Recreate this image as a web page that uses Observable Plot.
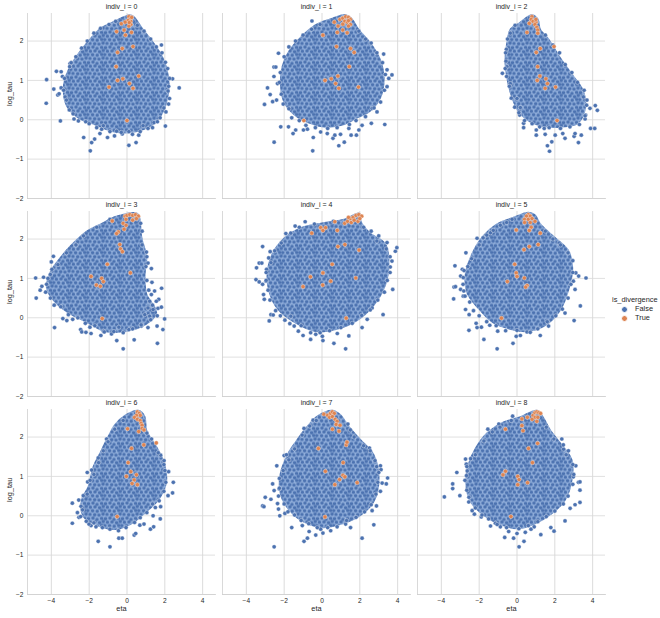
<!DOCTYPE html>
<html><head><meta charset="utf-8">
<script src="https://cdn.jsdelivr.net/npm/d3@7"></script>
<script src="https://cdn.jsdelivr.net/npm/@observablehq/plot@0.6"></script>
<style>
html,body{margin:0;padding:0;background:#fff;overflow:hidden}
#wrap{position:relative;width:660px;height:618px;font-family:"Liberation Sans",Arial,sans-serif;color:#262626}
#legend{position:absolute;left:612px;top:295px;font-size:7.4px;line-height:9px}
#legend .r{position:relative;height:9px;padding-left:23px}
#legend i{position:absolute;left:9px;top:2px;width:5px;height:5px;border-radius:50%;border:.4px solid #fff}
</style></head><body><div id="wrap"><div id="legend"><div>is_divergence</div>
<div class="r"><i style="background:#4c72b0"></i>False</div>
<div class="r"><i style="background:#dd8452"></i>True</div></div></div>
<script>
const outline0=[[.15,2.62],[-.65,2.45],[-1.35,2.28],[-1.95,1.98],[-2.5,1.65],[-3,1.26],[-3.25,.88],[-3.1,.37],[-2.5,.08],[-1.6,-.09],[-.65,-.26],[.4,-.26],[1.3,-.09],[1.8,.2],[2.1,.7],[2.08,1.13],[1.8,1.56],[1.3,1.94],[.75,2.28],[.3,2.58]];
const outline1=[[1.25,2.62],[.46,2.51],[-.33,2.36],[-1.04,2.07],[-1.65,1.73],[-2,1.35],[-2.09,.88],[-1.91,.46],[-1.39,.16],[-.68,-.03],[.19,-.14],[1.16,-.07],[1.77,.08],[2.47,.25],[3,.58],[3.18,1.05],[3,1.5],[2.47,1.93],[1.86,2.27],[1.51,2.53]];
const outline2=[[.79,2.62],[.18,2.42],[-.26,2.28],[-.44,1.94],[-.53,1.51],[-.44,1.09],[-.26,.71],[.09,.29],[.61,.03],[1.4,-.12],[2.28,-.14],[3.16,-.05],[3.51,.29],[3.42,.71],[2.89,1.09],[2.19,1.56],[1.58,2.03],[1.14,2.28],[1.02,2.53]];
const outline3=[[.5,2.61],[-.55,2.53],[-1.34,2.34],[-2.04,2.17],[-2.92,1.79],[-3.54,1.44],[-3.97,1.14],[-4.15,.76],[-3.71,.42],[-2.92,.13],[-2.04,-.08],[-1.17,-.3],[-.11,-.3],[.94,-.13],[1.46,.13],[.94,.59],[.85,1.1],[.94,1.53],[.68,2.03],[.59,2.46]];
const outline4=[[1.95,2.61],[1.25,2.46],[.02,2.36],[-1.04,2.25],[-1.91,2],[-2.53,1.61],[-2.79,1.14],[-2.7,.68],[-2.26,.25],[-1.39,-.08],[-.33,-.3],[.72,-.25],[1.77,-.04],[2.65,.34],[3.26,.85],[3.44,1.36],[3.26,1.86],[2.47,2.12],[1.95,2.46]];
const outline5=[[.61,2.63],[-.18,2.5],[-1.05,2.33],[-1.75,2.03],[-2.28,1.61],[-2.63,1.1],[-2.54,.64],[-1.93,.25],[-1.23,-.08],[-.35,-.24],[.53,-.3],[1.4,-.17],[2.19,.21],[2.63,.72],[2.84,1.27],[2.63,1.69],[1.75,2.08],[1.14,2.37],[.88,2.58]];
const outline6=[[.59,2.63],[-.03,2.52],[-.55,2.29],[-.9,2],[-1.34,1.57],[-1.69,1.23],[-1.96,.72],[-2.31,.38],[-2.22,0],[-1.52,-.21],[-.64,-.3],[.15,-.17],[.94,.13],[1.64,.47],[1.99,.89],[1.82,1.4],[1.46,1.74],[.94,2.16],[.85,2.5]];
const outline7=[[.54,2.63],[-.16,2.5],[-.77,2.2],[-1.3,1.86],[-1.74,1.53],[-2.12,1.02],[-2.09,.55],[-1.65,.17],[-.86,-.13],[.02,-.25],[.98,-.17],[1.95,.04],[2.65,.38],[2.91,.97],[2.65,1.53],[1.95,1.91],[1.33,2.25],[.89,2.54]];
const outline8=[[1.05,2.63],[.18,2.46],[-.7,2.33],[-1.49,2.08],[-2.11,1.69],[-2.46,1.31],[-2.6,.81],[-2.37,.38],[-1.67,.04],[-.88,-.17],[0,-.28],[.88,-.17],[1.75,.08],[2.46,.42],[2.81,.93],[2.81,1.4],[2.28,1.78],[1.67,2.16],[1.32,2.46]];

const stray0=[[-4.25,1.02],[-4.27,.42],[-3.87,.78],[-3.73,1.23],[-3.48,1.22],[-3.41,1.1],[-3.66,.63],[-3.48,.81],[-3.59,.66],[-3.27,.58],[-3.52,-.03],[-2.29,-.45],[-1.87,-.58],[-1.94,-.79],[-1.71,-.49],[-1.43,-.35],[-1.03,-.45],[-.66,-.41],[-.25,-.36],[.1,-.65],[.29,-.37],[.48,-.58],[.62,-.39],[.85,-.15],[1.11,-.22],[1.43,-.07],[1.61,-.05],[2.03,-.16],[2.06,.2],[2.25,.54],[2.17,.73],[2.41,1.04],[2.76,.81],[1.82,1.9],[2.03,1.46],[-3.01,1.43],[-3.03,1.35],[-2.18,-.05],[-2.57,-.03],[-1.34,-.24],[-1.6,-.2],[-.55,-.29],[-3.3,1.05],[-3.35,.75],[-3.2,.5],[-3.05,.25],[-2.85,.15],[-2.95,1.45],[-2.7,1.6],[-2.4,1.82],[-2.1,2],[-1.75,2.2],[-1.4,2.32],[-.95,2.42],[-.6,2.5],[.55,2.4],[.9,2.25],[1.25,2.05],[1.55,1.85],[1.85,1.7],[2.15,1.3],[2.25,1.05],[2.2,.85],[2.2,.4],[1.95,.3],[1.75,.05],[1.35,-.2],[.7,-.3],[.1,-.3],[-.3,-.32],[-.9,-.3],[-1.25,-.15],[-2,-.1],[-2.8,.02]];
const stray1=[[-3.04,.39],[-2.88,.81],[-2.54,1.34],[-2.44,1.34],[-2.3,1.69],[-2.54,1.1],[-2.61,.46],[-2.4,.5],[-2.74,.64],[-2.35,.92],[-2.18,-.18],[-1.77,-.18],[-1.39,-.26],[-1.53,-.35],[-2.53,-.57],[-.49,-.79],[-.46,-.45],[-.98,-.26],[-.77,-.24],[-.07,-.31],[.28,-.35],[.58,-.47],[.68,-.39],[.89,-.66],[1.18,-.57],[.98,-.37],[1.42,-.22],[1.54,-.39],[1.82,-.39],[1.95,-.26],[2.12,-.14],[2.61,-.09],[3.32,-.12],[2.91,.2],[2.65,.29],[3.44,.84],[3.53,1.05],[3.7,1.14],[3.44,1.27],[3.26,1.67],[-.53,2.51],[-2.2,1.2],[-2.25,.95],[-2.15,.65],[-2.05,.4],[-1.75,.28],[-1.6,.05],[-1.2,-.02],[-.85,-.14],[-.35,-.2],[.3,-.22],[.8,-.2],[1.45,-.12],[1.8,-.02],[2.3,.08],[2.75,.3],[3.1,.45],[3.3,.75],[3.35,1.15],[3.2,1.45],[2.9,1.7],[2.6,1.95],[2.3,2.05],[1.95,2.25],[-.1,2.42],[-.55,2.3],[-1,2.15],[-1.4,2],[-1.75,1.85],[-2,1.6]];
const stray2=[[-.77,1.18],[-.56,1.79],[-.58,1.49],[-.53,1.35],[-.35,.92],[0,.54],[.18,.31],[.14,.12],[.35,-.09],[.35,-.2],[1.02,-.26],[1.02,-.39],[1.44,-.22],[1.49,-.37],[1.61,-.66],[1.72,-.8],[1.84,-.56],[2.02,-.39],[2.42,-.35],[2.54,-.47],[3.02,-.42],[3.07,-.35],[3.25,-.58],[3.4,-.39],[3.89,-.22],[4.11,-.22],[3.6,.02],[3.63,.12],[3.68,.37],[3.86,.29],[4.14,.36],[4.25,.24],[3.51,.58],[-.6,1.7],[-.62,1.3],[-.55,1.1],[-.4,.85],[-.3,.55],[-.12,.32],[.1,.18],[.4,-.02],[.8,-.1],[1.2,-.18],[1.7,-.2],[2.3,-.22],[2.8,-.18],[3.3,-.12],[3.6,.1],[3.7,.5],[3.55,.75],[3.2,.95],[2.9,1.2],[2.55,1.4],[2.25,1.7],[1.9,1.9],[1.5,2.15],[-.1,2.4],[-.35,2.2],[-.5,2.05]];
const stray3=[[-4.83,1.01],[-4.8,.5],[-4.59,.7],[-4.5,.8],[-4.41,1.03],[-4.18,1],[-3.97,1.23],[-4,1.42],[-3.89,1.56],[-3.83,-.25],[-3.39,-.02],[-3.18,-.07],[-2.87,-.04],[-2.45,-.3],[-2.39,-.36],[-2.17,-.37],[-1.9,-.4],[-1.96,-.24],[-1.38,-.45],[-1.24,-.34],[-.82,-.41],[-.54,-.58],[-.2,-.79],[.38,-.56],[-.43,-.24],[.1,-.3],[1.61,-.65],[1.59,-.21],[1.9,-.3],[1.99,-.03],[1.64,.24],[1.82,.27],[1.68,.47],[1.83,.75],[1.32,.9],[1.29,1.25],[1.11,1.39],[1.03,1.67],[1.11,-.25],[.76,-.21],[1.2,.42],[1.11,.25],[1.29,.59],[1.46,.68],[.94,.08],[1.2,.04],[1.38,.21],[1.55,.42],[-4.25,.85],[-4.3,.65],[-4.05,.5],[-3.85,.32],[-3.5,.28],[-3.1,.08],[-2.6,0],[-2.2,-.14],[-1.7,-.2],[-1.2,-.36],[-.7,-.35],[-.2,-.38],[.3,-.28],[.75,-.18],[1.25,-.05],[1.6,.05],[1.35,.32],[1.15,.7],[1.05,.95],[1,1.3],[1.05,1.55],[.8,1.85],[.8,2.2],[.72,2.4],[-.9,2.5],[-1.6,2.3],[-2.3,2.08],[-2.7,1.85],[-3.2,1.65],[-3.65,1.35],[-4.05,1.1]];
const stray4=[[-3.49,.97],[-3.32,.91],[-3.14,.85],[-2.96,.93],[-3.46,1.27],[-3.32,1.39],[-3.18,1.39],[-3.14,1.81],[-2.93,1.23],[-2.74,1.68],[-2.82,1.52],[-3.09,.59],[-3.05,.47],[-2.7,.08],[-2.79,-.08],[-2.58,.07],[-1.96,-.06],[-1.65,.04],[-1.47,-.21],[-1.25,-.34],[-1,-.45],[-.6,-.55],[.05,-.58],[.02,-.47],[.63,-.65],[1.25,-.79],[1.42,-.46],[.81,-.4],[2.12,-.25],[2.39,-.04],[3.23,.08],[2.65,.25],[3.74,.72],[3.7,1.44],[3.61,1.29],[3.88,1.69],[3.96,1.78],[3.44,1.91],[3,2.08],[-.89,2.44],[-1.42,2.33],[-1.91,2.14],[-.33,-.42],[-2.95,1.15],[-2.95,.95],[-2.85,.7],[-2.75,.45],[-2.45,.18],[-2.2,.05],[-1.7,-.15],[-1.1,-.2],[-.6,-.38],[-.1,-.38],[.4,-.33],[1,-.25],[1.6,-.14],[2.1,.06],[2.55,.2],[2.95,.45],[3.3,.65],[3.45,.95],[3.6,1.15],[3.6,1.55],[3.4,1.75],[2.9,1.95],[2.6,2.2],[2.2,2.3],[.6,2.45],[-.4,2.38],[-1.2,2.3],[-1.65,2.15],[-2.15,1.9],[-2.5,1.7],[-2.7,1.4]];
const stray5=[[-3.28,1.32],[-3.33,.78],[-3.25,.79],[-3.35,.48],[-2.98,1.06],[-2.89,1.23],[-2.84,1.02],[-2.98,.72],[-2.81,.68],[-2.84,.55],[-2.7,1.65],[-2.72,.21],[-2.53,.08],[-2.54,-.32],[-2.16,-.14],[-2.11,-.25],[-1.75,-.55],[-1.88,-.24],[-1.44,-.19],[-1.05,-.79],[-1.02,-.34],[-.21,-.65],[-.04,-.47],[.18,-.45],[.53,-.36],[1.23,-.45],[1.67,-.21],[3.02,-.07],[2.54,.12],[3.35,.3],[3.65,1.01],[3.26,1.06],[3.11,1.14],[3.07,.72],[2.98,.93],[2.23,1.9],[-2.11,2.02],[-1.79,2.03],[-1.4,2.16],[-.88,2.35],[-.26,2.5],[-2.8,1.2],[-2.85,.85],[-2.75,.55],[-2.5,.4],[-2.3,.18],[-2,.05],[-1.6,-.1],[-1.1,-.2],[-.6,-.33],[0,-.32],[.7,-.37],[1.1,-.28],[1.6,-.1],[2.05,.05],[2.4,.22],[2.7,.5],[2.85,.85],[2.95,1.15],[2.95,1.45],[2.7,1.65],[2.3,1.85],[1.9,2],[1.5,2.2],[-.55,2.42],[-1.25,2.22],[-1.6,2.1],[-2,1.85],[-2.4,1.5],[-2.6,1.3]];
const stray6=[[-2.89,.32],[-2.89,-.19],[-2.62,.08],[-2.54,-.04],[-2.43,.24],[-2.31,.51],[-2.1,1.1],[-2.08,.86],[-1.87,1.16],[-1.9,-.25],[-1.64,-.28],[-1.52,-.65],[-.9,-.79],[-.43,-.57],[-.25,-.57],[.38,-.49],[.46,-.45],[.68,-.24],[.9,-.21],[1.24,-.34],[1.41,-.28],[1.76,-.08],[1.38,0],[1.5,.21],[1.78,.23],[2.17,.51],[2.41,.58],[2.45,.85],[2.2,1.12],[1.78,1.54],[1.96,1.4],[-1.08,1.95],[-1.52,1.47],[-2.01,-.21],[-2.55,.4],[-2.35,.15],[-2.45,-.02],[-2.15,-.14],[-1.75,-.18],[-1.3,-.3],[-.9,-.34],[-.45,-.38],[-.05,-.3],[.4,-.17],[.7,-.05],[1.05,.08],[1.35,.3],[1.7,.38],[1.95,.62],[2.05,.85],[2,1.15],[1.95,1.3],[1.65,1.6],[1.3,1.95],[1.05,2.1],[-.2,2.42],[-.65,2.2],[-1,1.88],[-1.25,1.65],[-1.5,1.35],[-1.75,1.05],[-1.95,.9],[-2.1,.55]];
const stray7=[[-2.53,-.79],[-3.14,.25],[-3.07,.23],[-3,.47],[-2.7,.42],[-2.61,.81],[-2.39,1.27],[-2.53,.64],[-2.26,.68],[-2.35,.31],[-2.3,.17],[-2.23,0],[-1.96,.06],[-2,1.53],[-1.88,1.55],[-1.6,-.3],[-1.04,-.25],[-.95,-.65],[-.77,-.57],[-.68,-.4],[-.33,-.49],[.05,-.44],[-.07,-.34],[.46,-.38],[1.25,-.21],[1.51,-.3],[2.12,-.57],[2.74,-.23],[2.65,.13],[2.88,.25],[3.09,.62],[3.18,.83],[3.4,.81],[3.47,.96],[3.09,1.27],[3.12,1.17],[2.89,1.25],[2.51,1.72],[1.37,2.33],[-.95,2.22],[-.47,2.43],[-2.25,.95],[-2.25,.7],[-2.3,.5],[-2,.3],[-1.8,.1],[-1.45,.02],[-1.1,-.12],[-.7,-.2],[-.25,-.3],[.3,-.3],[.8,-.28],[1.3,-.12],[1.8,-.04],[2.25,.1],[2.6,.28],[2.85,.55],[2.95,.85],[3,1.1],[2.8,1.4],[2.55,1.65],[2.2,1.78],[1.7,2],[1.5,2.18],[-.3,2.42],[-.65,2.28],[-1.05,2.05],[-1.45,1.7],[-1.75,1.42],[-2.05,1.15]];
const stray8=[[-3.84,.48],[-3.4,.81],[-3.4,.69],[-3.02,.51],[-3.18,1.1],[-2.72,1.44],[-2.68,1.31],[-2.67,1.02],[-2.63,1.14],[-2.54,.47],[-2.37,.13],[-2.25,.04],[-1.89,-.03],[-1.4,-.26],[-1.14,-.19],[-.88,-.28],[-.65,-.55],[-.44,-.4],[-.18,-.57],[0,-.45],[.11,-.79],[.37,-.65],[.44,-.42],[.74,-.34],[.91,-.28],[1.26,-.48],[1.79,-.3],[1.96,-.39],[2.54,-.13],[2.81,.19],[3.07,.28],[3.33,.34],[3.33,.65],[3.25,.85],[3.33,.86],[2.98,.99],[3.11,1.27],[2.72,1.65],[2.46,1.69],[2.37,1.95],[-1.54,2.2],[-.96,2.33],[-.23,2.53],[-2.65,1.25],[-2.75,.9],[-2.65,.65],[-2.55,.35],[-2.2,.2],[-1.85,.02],[-1.5,-.08],[-1.05,-.22],[-.55,-.3],[.1,-.33],[.6,-.25],[1.1,-.15],[1.55,-.02],[2,.12],[2.45,.3],[2.7,.5],[2.95,.8],[3,1.05],[2.95,1.3],[2.6,1.55],[2.45,1.8],[1.95,1.95],[1.55,2.25],[-.3,2.42],[-.9,2.25],[-1.3,2.13],[-1.75,1.9],[-2.2,1.55],[-2.45,1.45]];

const div0=[[.1,2.62],[.15,2.55],[.2,2.5],[.05,2.52],[.2,2.42],[.1,2.38],[.25,2.6],[.12,2.47],[-.1,2.48],[-.3,2.44],[-.55,2.24],[-.15,2.28],[-.08,2.15],[.24,2.22],[.32,1.86],[-.25,1.81],[-.5,1.71],[-.57,1.35],[-.5,1],[-.22,1.04],[.62,1.11],[.13,.92],[.32,.8],[-.95,.83],[0,-.02]];
const div1=[[.95,2.55],[1.1,2.58],[1.25,2.62],[1.4,2.6],[1.5,2.55],[1.2,2.5],[1.35,2.48],[1.5,2.42],[.65,2.48],[.85,2.38],[1.4,2.38],[1.4,2.52],[1.1,2.43],[.05,2.15],[.81,2.22],[1.1,2.28],[1.33,2.21],[.77,1.86],[1.51,1.81],[1.7,1.71],[1.44,1.35],[.16,1],[.49,1.04],[.84,1.11],[.72,.92],[.89,.8],[1.93,.83],[-.96,-.02]];
const div2=[[.79,2.62],[.75,2.55],[.85,2.5],[1,2.48],[.95,2.42],[1.05,2.35],[1.1,2.28],[1.1,2.2],[.65,2.45],[1,2.55],[.53,2.22],[1.96,1.86],[1.23,1.81],[1.02,1.71],[1.09,1.35],[1.21,1.11],[1.07,1],[1.53,1.04],[1.61,.92],[1.49,.8],[2.04,.83],[2.12,-.02]];
const div3=[[-.1,2.58],[0,2.6],[.15,2.62],[.3,2.6],[.45,2.62],[.6,2.58],[.3,2.48],[.5,2.52],[-.05,2.5],[-.2,2.4],[-.05,2.35],[-.15,2.25],[-.78,2.46],[-.46,2.18],[-.55,2.14],[-.38,1.86],[-.34,1.75],[-.24,1.68],[-1.04,1.36],[.18,1.14],[-1.9,1.05],[-1.34,1],[-1.25,.92],[-1.62,.83],[-1.41,.8],[-1.31,-.02]];
const div4=[[1.2,2.4],[1.35,2.45],[1.5,2.52],[1.55,2.42],[1.65,2.55],[1.8,2.6],[1.95,2.62],[2.1,2.58],[1.9,2.45],[2,2.52],[1.4,2.55],[1.7,2.48],[-.54,2.15],[-.07,2.29],[.05,2.22],[.19,2.29],[.68,2.44],[.81,2.22],[.84,1.81],[1.21,1.86],[1.96,1.72],[.54,1.36],[.05,1.14],[-.61,1.04],[.46,.93],[1.79,1.01],[-1,.79],[.04,.83],[1.28,-.01]];
const div5=[[.6,2.62],[.7,2.58],[.5,2.58],[.4,2.5],[.6,2.5],[.8,2.52],[.95,2.45],[.4,2.42],[.7,2.42],[.75,2.3],[.65,2.22],[-.04,2.23],[1.23,2.15],[1.12,1.86],[.65,1.81],[.37,1.73],[-.12,1.36],[-.04,1.14],[0,1.05],[.39,1.01],[-.51,.92],[.53,.82],[.46,.78],[-.82,-.01]];
const div6=[[.55,2.64],[.65,2.6],[.7,2.55],[.5,2.55],[.4,2.5],[.55,2.45],[.7,2.42],[.75,2.35],[.8,2.3],[.8,2.22],[.9,2.18],[.03,2.21],[.62,2.14],[1.55,1.85],[.89,1.8],[.24,1.71],[.06,1.35],[.2,1.12],[.5,1.04],[-.03,1],[.38,.91],[.27,.82],[.55,.79],[-.52,-.02]];
const div7=[[.1,2.58],[.3,2.55],[.45,2.6],[.55,2.64],[.65,2.6],[.4,2.5],[.55,2.52],[.7,2.45],[.8,2.4],[.75,2.32],[.95,2.3],[.55,2.2],[.9,2.15],[-.19,1.71],[1.28,1.8],[1.32,1.87],[1.12,1.35],[.18,1.13],[1.11,1.03],[1.21,.99],[.93,.92],[.68,.79],[1.86,.84],[.16,-.03]];
const div8=[[.85,2.55],[.95,2.62],[1.05,2.64],[1.15,2.62],[1.25,2.6],[.95,2.5],[1.1,2.5],[.8,2.45],[1.05,2.4],[.55,2.5],[.26,2.46],[-.61,2.2],[.26,2.29],[.32,2.16],[1.09,1.84],[.61,1.71],[.82,1.35],[-.61,1.13],[-.74,1.04],[.04,1],[.11,.92],[.04,.79],[.56,.84],[-.32,-.02]];

const outlines=[outline0,outline1,outline2,outline3,outline4,outline5,outline6,outline7,outline8];
const strays=[stray0,stray1,stray2,stray3,stray4,stray5,stray6,stray7,stray8];
const divs=[div0,div1,div2,div3,div4,div5,div6,div7,div8];
const panels=[0,1,2,3,4,5,6,7,8];
const etaTicks=[-4,-2,0,2,4];
const tauTicks=[-2,-1,0,1,2];

const rows=(lists)=>lists.flatMap((l,i)=>l.map(([eta,tau])=>({eta,tau,i,col:i%3,row:Math.floor(i/3)})));
const facet={fx:"col",fy:"row"};
const panelRows=panels.map(i=>({i,col:i%3,row:Math.floor(i/3)}));

// speckle: the texture that thousands of overlapping white-edged dots make
const speckle=()=>{
  const W=17,H=15;
  const defs=d3.create("svg:defs");
  const p=defs.append("pattern").attr("id","speckle").attr("patternUnits","userSpaceOnUse").attr("width",W).attr("height",H);
  p.append("rect").attr("width",W).attr("height",H).attr("fill","#8fadda");
  const tile=[[1.5,1.2],[6,.6],[10,1.9],[14.6,.9],[3.4,4.7],[8,4.4],[12.6,5.3],[16.2,4],[.9,8.1],[5.6,8.2],[10.2,8.8],[14.7,8],[3,11.9],[7.7,12.2],[12,12.6],[16,11.6]];
  for(const [x,y] of tile) for(const dx of [-W,0,W]) for(const dy of [-H,0,H])
    p.append("circle").attr("cx",x+dx).attr("cy",y+dy).attr("r",1.72).attr("fill","#4c72b0");
  return defs.node();
};

const chart=Plot.plot({
  width:660,height:618,
  marginLeft:25.5,marginRight:54,marginTop:12,marginBottom:23.5,
  style:{fontFamily:'"Liberation Sans",Arial,sans-serif',fontSize:"6.6px",color:"#262626",background:"#fff"},
  x:{domain:[-5.26,4.68]},
  y:{domain:[-2,2.7]},
  fx:{domain:[0,1,2],paddingInner:.0345,paddingOuter:0,axis:null},
  fy:{domain:[0,1,2],paddingInner:.0645,paddingOuter:0,axis:null},
  marks:[
    speckle,
    Plot.gridX(etaTicks,{stroke:"#d2d2d2",strokeOpacity:1,strokeWidth:.8}),
    Plot.gridY(tauTicks,{stroke:"#d8d8d8",strokeOpacity:1,strokeWidth:.8}),
    Plot.frame({anchor:"left",stroke:"#cfcfcf",strokeWidth:.8}),
    Plot.frame({anchor:"bottom",stroke:"#cfcfcf",strokeWidth:.8}),
    Plot.axisX({ticks:etaTicks,tickSize:0,tickPadding:3.5,label:null,tickFormat:d3.format("d")}),
    Plot.axisY({ticks:tauTicks,tickSize:0,tickPadding:4,label:null,tickFormat:d3.format("d")}),
    Plot.text(panelRows,{...facet,text:d=>`indiv_i = ${d.i}`,frameAnchor:"top",dy:-9.5,fontSize:7,fill:"#262626"}),
    Plot.text(panelRows.filter(d=>d.row===2),{...facet,text:()=>"eta",frameAnchor:"bottom",dy:16,fontSize:7.4,fill:"#262626"}),
    Plot.text(panelRows.filter(d=>d.col===0),{...facet,text:()=>"log_tau",frameAnchor:"left",dx:-18,rotate:-90,fontSize:7.4,fill:"#262626"}),
    Plot.line(rows(outlines),{...facet,x:"eta",y:"tau",z:"i",curve:"catmull-rom-closed",fill:"url(#speckle)",stroke:"url(#speckle)",strokeWidth:5,strokeLinejoin:"round",strokeOpacity:1}),
    Plot.dot(rows(strays),{...facet,x:"eta",y:"tau",r:2.1,fill:"#4c72b0",stroke:"#fff",strokeWidth:.35}),
    Plot.dot(rows(divs),{...facet,x:"eta",y:"tau",r:2.1,fill:"#dd8452",stroke:"#fff",strokeWidth:.35})
  ]
});
document.getElementById("wrap").prepend(chart);
</script></body></html>
